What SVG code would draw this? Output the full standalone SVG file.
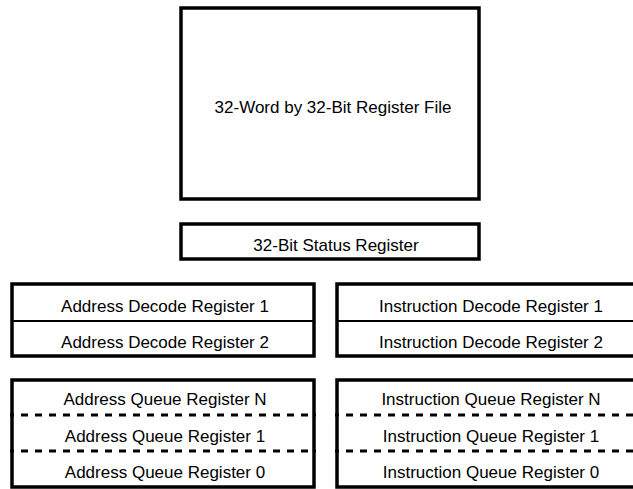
<svg xmlns="http://www.w3.org/2000/svg" width="633" height="489" viewBox="0 0 633 489">
<style>
.box{fill:#fff;stroke:#000;stroke-width:3.5}
.div{stroke:#000;stroke-width:2;fill:none}
.dot{stroke:#000;stroke-width:3.2;fill:none;stroke-dasharray:7 7;stroke-dashoffset:3}
.t{font-family:"Liberation Sans",Arial,Helvetica,sans-serif;font-size:17px;fill:#000;text-anchor:middle}
</style>
<rect width="633" height="489" fill="#fff"/>
<g id="register-file">
<rect class="box" x="181" y="8" width="298" height="191"/>
<text class="t" x="333" y="113">32-Word by 32-Bit Register File</text>
</g>
<g id="status-register">
<rect class="box" x="181" y="224" width="298" height="35"/>
<text class="t" x="336" y="251">32-Bit Status Register</text>
</g>
<g id="address-decode">
<rect class="box" x="12" y="284" width="302" height="72"/>
<line class="div" x1="12" y1="321" x2="314" y2="321"/>
<text class="t" x="165" y="312">Address Decode Register 1</text>
<text class="t" x="165" y="348">Address Decode Register 2</text>
</g>
<g id="instruction-decode">
<rect class="box" x="337" y="284" width="310" height="72"/>
<line class="div" x1="337" y1="321" x2="647" y2="321"/>
<text class="t" x="491" y="312">Instruction Decode Register 1</text>
<text class="t" x="491" y="348">Instruction Decode Register 2</text>
</g>
<g id="address-queue">
<rect class="box" x="12" y="380" width="302" height="107"/>
<line class="dot" x1="10" y1="415" x2="316" y2="415"/>
<line class="dot" x1="10" y1="451" x2="316" y2="451"/>
<text class="t" x="165" y="405">Address Queue Register N</text>
<text class="t" x="165" y="442">Address Queue Register 1</text>
<text class="t" x="165" y="478">Address Queue Register 0</text>
</g>
<g id="instruction-queue">
<rect class="box" x="337" y="380" width="310" height="107"/>
<line class="dot" x1="335" y1="415" x2="647" y2="415"/>
<line class="dot" x1="335" y1="451" x2="647" y2="451"/>
<text class="t" x="491" y="405">Instruction Queue Register N</text>
<text class="t" x="491" y="442">Instruction Queue Register 1</text>
<text class="t" x="491" y="478">Instruction Queue Register 0</text>
</g>
<g id="connectors"/>
</svg>
